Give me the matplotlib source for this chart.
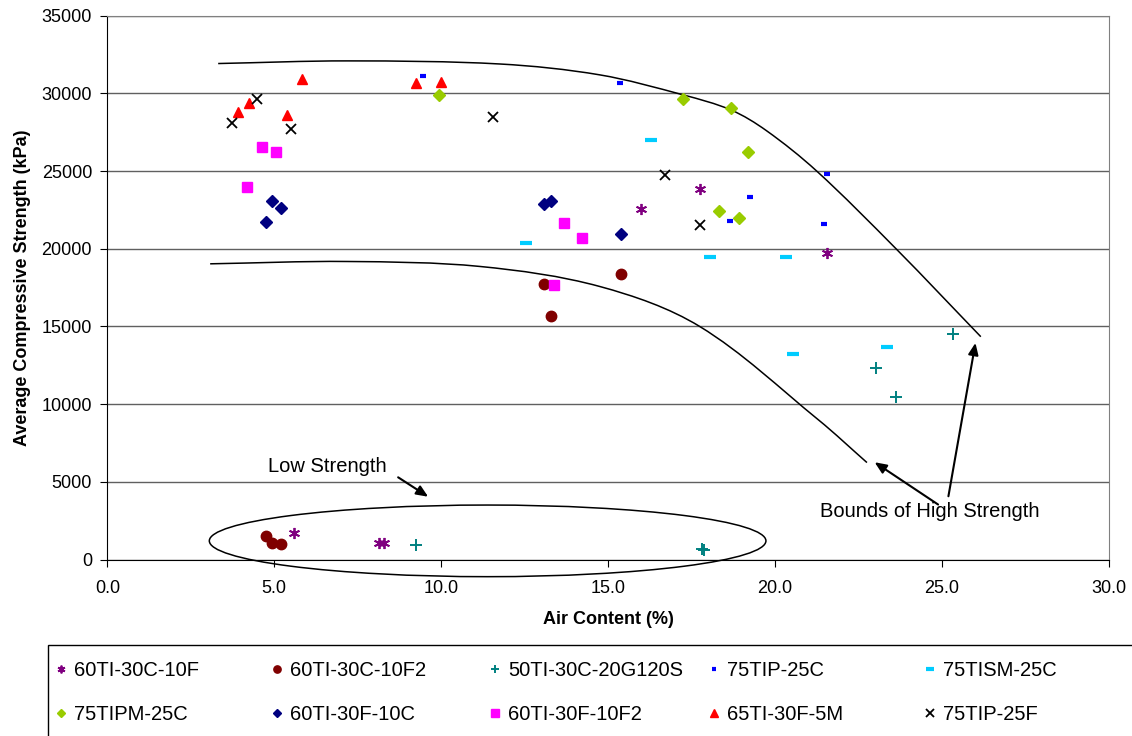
import numpy as np
import matplotlib
matplotlib.use("Agg")
import matplotlib.pyplot as plt
from matplotlib.path import Path
from matplotlib.patches import PathPatch, Ellipse, Rectangle
from matplotlib.lines import Line2D

plt.rcParams["font.family"] = ["Liberation Sans", "DejaVu Sans"]

# series: air content (%) and average compressive strength (kPa)
s1_x = [15.99, 17.74, 21.54, 5.60, 8.15, 8.30]
s1_y = [22550, 23850, 19750, 1690, 1080, 1080]
s2_x = [13.08, 15.38, 13.28, 4.74, 4.92, 5.19]
s2_y = [17700, 18400, 15700, 1510, 1040, 1000]
s3_x = [25.33, 23.02, 23.63, 9.24, 17.82, 17.88]
s3_y = [14500, 12350, 10480, 910, 660, 600]
s4_x = [9.45, 15.35, 21.55, 19.25, 18.65, 21.46]
s4_y = [31120, 30650, 24800, 23300, 21800, 21580]
s5_x = [16.29, 12.54, 18.04, 20.34, 20.55, 23.34]
s5_y = [26990, 20360, 19460, 19460, 13250, 13650]
s6_x = [9.94, 17.23, 18.68, 19.18, 18.33, 18.93]
s6_y = [29900, 29620, 29080, 26210, 22400, 21970]
s7_x = [4.94, 5.19, 4.74, 13.08, 13.28, 15.38]
s7_y = [23100, 22630, 21730, 22860, 23100, 20960]
s8_x = [4.63, 5.04, 4.18, 13.68, 14.23, 13.38]
s8_y = [26540, 26250, 23980, 21670, 20680, 17640]
s9_x = [5.84, 9.23, 9.99, 3.90, 4.24, 5.39]
s9_y = [30910, 30650, 30760, 28830, 29370, 28630]
s10_x = [4.49, 3.74, 5.50, 11.54, 16.70, 17.74]
s10_y = [29620, 28100, 27690, 28470, 24760, 21560]

labels = ["60TI-30C-10F", "60TI-30C-10F2", "50TI-30C-20G120S", "75TIP-25C", "75TISM-25C",
          "75TIPM-25C", "60TI-30F-10C", "60TI-30F-10F2", "65TI-30F-5M", "75TIP-25F"]

# hand drawn bounds of high strength
upper_x = [3.32, 7.2, 11.76, 14.75, 17.25, 18.68, 19.74, 21.24, 23.63, 26.16]
upper_y = [31920, 32090, 31890, 31190, 29900, 28930, 27600, 25010, 19980, 14340]
lower_x = [3.08, 7.17, 11.16, 14.75, 17.74, 21.29, 22.75]
lower_y = [19030, 19180, 18860, 17570, 15000, 9000, 6240]

styles = [
    dict(marker=(6, 2, 0), color="#800080", ms=8, mew=1.3),
    dict(marker="o", color="#800000", ms=7.5),
    dict(marker="+", color="#008080", ms=8, mew=1.4),
    dict(marker="_", color="#0000FF", ms=5, mew=3),
    dict(marker="_", color="#00CCFF", ms=8, mew=3),
    dict(marker="D", color="#99CC00", ms=6.5),
    dict(marker="D", color="#000080", ms=6.5),
    dict(marker="s", color="#FF00FF", ms=7.5),
    dict(marker="^", color="#FF0000", ms=7.5),
    dict(marker="x", color="#000000", ms=7.5, mew=1.3),
]


def smooth_path(xs, ys, sx=33.4, sy=1 / 64.36):
    # bezier through the read points; tangents from neighbours, handles a third of each chord
    p = np.column_stack([np.asarray(xs) * sx, np.asarray(ys) * sy])
    n = len(p)
    tang = np.zeros_like(p)
    for i in range(n):
        d = p[min(i + 1, n - 1)] - p[max(i - 1, 0)]
        tang[i] = d / np.hypot(*d)
    verts = [p[0]]
    codes = [Path.MOVETO]
    for i in range(n - 1):
        L = np.hypot(*(p[i + 1] - p[i])) / 3
        verts += [p[i] + tang[i] * L, p[i + 1] - tang[i + 1] * L, p[i + 1]]
        codes += [Path.CURVE4] * 3
    verts = np.array(verts) / [sx, sy]
    return Path(verts, codes)


fig = plt.figure(figsize=(11.32, 7.36), dpi=100)
ax = fig.add_axes([0.0948, 0.2398, 0.8849, 0.7389])

ax.set_xlim(0, 30)
ax.set_ylim(0, 35000)
ax.set_yticks(np.arange(0, 35001, 5000))
ax.set_xticks(np.arange(0, 30.1, 5))
ax.set_xticklabels([f"{v:.1f}" for v in np.arange(0, 30.1, 5)])
ax.yaxis.grid(True, color="#606060", linewidth=1.0)
ax.set_axisbelow(True)
for side in ["top", "right"]:
    ax.spines[side].set_color("#808080")
ax.tick_params(axis="both", labelsize=13, length=5, direction="out")
ax.tick_params(axis="x", pad=10)
ax.tick_params(axis="y", pad=6)

all_x = [s1_x, s2_x, s3_x, s4_x, s5_x, s6_x, s7_x, s8_x, s9_x, s10_x]
all_y = [s1_y, s2_y, s3_y, s4_y, s5_y, s6_y, s7_y, s8_y, s9_y, s10_y]
handles = []
for xs, ys, lab, st in zip(all_x, all_y, labels, styles):
    ax.plot(xs, ys, linestyle="none", marker=st["marker"], color=st["color"],
            markersize=st["ms"], markeredgewidth=st.get("mew", 1), zorder=3)
    handles.append(Line2D([], [], linestyle="none", marker=st["marker"], color=st["color"],
                          markersize=st["ms"] * 0.7, markeredgewidth=st.get("mew", 1), label=lab))

ax.add_patch(PathPatch(smooth_path(upper_x, upper_y), fill=False, color="black", lw=1.1))
ax.add_patch(PathPatch(smooth_path(lower_x, lower_y), fill=False, color="black", lw=1.1))
ax.add_patch(Ellipse((11.39, 1200), 16.67, 4610, fill=False, color="black", lw=1.1, clip_on=False))

arrow = dict(arrowstyle="-|>,head_length=0.7,head_width=0.3", color="black", lw=1.5, shrinkA=0, shrinkB=0)
ax.text(6.59, 5970, "Low Strength", fontsize=14.5, ha="center", va="center")
ax.annotate("", xy=(9.61, 4040), xytext=(8.71, 5290), arrowprops=arrow)
ax.text(24.62, 3120, "Bounds of High Strength", fontsize=14.5, ha="center", va="center")
ax.annotate("", xy=(22.98, 6260), xytext=(24.88, 3540), arrowprops=arrow)
ax.annotate("", xy=(26.0, 13940), xytext=(25.19, 4070), arrowprops=arrow)

ax.set_xlabel("Air Content (%)", fontsize=13, fontweight="bold")
ax.set_ylabel("Average Compressive Strength (kPa)", fontsize=13, fontweight="bold")
ax.xaxis.set_label_coords(0.5, -0.094)
ax.yaxis.set_label_coords(-0.076, 0.5)

# legend: box running off the bottom/right edge, five equally spaced columns filled row by row
fig.patches.append(Rectangle((48 / 1132, -0.05), 1.1, 1 - 645 / 736 + 0.05, transform=fig.transFigure,
                             fill=False, edgecolor="black", linewidth=1.0))
col_left = [55, 271, 489, 708, 924]
for c, x0 in enumerate(col_left):
    leg = fig.legend(handles=[handles[c], handles[c + 5]], loc="upper left",
                     bbox_to_anchor=(x0 / 1132, 1 - 661 / 736), borderaxespad=0, borderpad=0,
                     fontsize=14.5, frameon=False, handlelength=0.6, handletextpad=0.35,
                     labelspacing=1.25)

fig.savefig("out.png", dpi=100)
